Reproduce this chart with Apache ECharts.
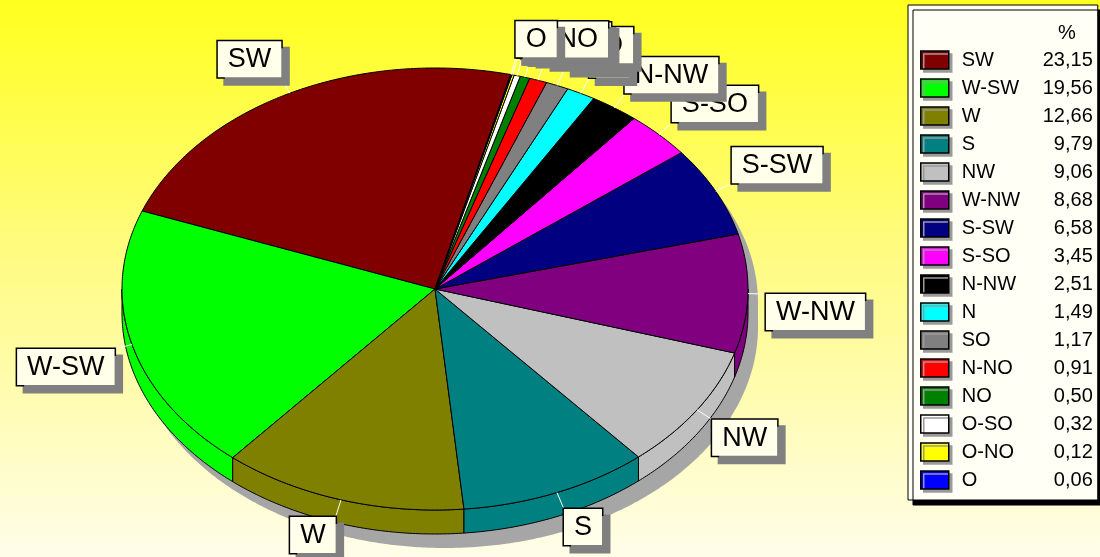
<!DOCTYPE html>
<html>
<head>
<meta charset="utf-8">
<script src="https://cdn.jsdelivr.net/npm/echarts@6/dist/echarts.min.js"></script>
<style>
html,body{margin:0;padding:0;}
#chart{width:1100px;height:557px;}
</style>
</head>
<body>
<div id="chart"></div>
<script>
// ---- data ----
const categories = ['SW','W-SW','W','S','NW','W-NW','S-SW','S-SO','N-NW','N','SO','N-NO','NO','O-SO','O-NO','O'];
const values = [23.15,19.56,12.66,9.79,9.06,8.68,6.58,3.45,2.51,1.49,1.17,0.91,0.50,0.32,0.12,0.06];
const colors = ['#800000','#00ff00','#808000','#008080','#c0c0c0','#800080','#000080','#ff00ff','#000000','#00ffff','#808080','#ff0000','#008000','#ffffff','#ffff00','#0000ff'];
const headerLabel = '%';

// ---- layout (styling) ----
const G = {cx:435, cy:289, rx:313, ry:221, depth:24, startAngle:76, leader:18, shX:10, shY:14};
const total = values.reduce((a,b)=>a+b,0);
const fmt = v => v.toFixed(2).replace('.', ',');

function pt(t, rxx, ryy, yoff){
  const r = t*Math.PI/180;
  return [G.cx + rxx*Math.cos(r), G.cy + (yoff||0) - ryy*Math.sin(r)];
}
function arc(s, e, rxx, ryy, yoff){
  const n = Math.max(2, Math.ceil(Math.abs(e-s)/0.5)+1);
  const out = [];
  for(let k=0;k<n;k++){ out.push(pt(s + (e-s)*k/(n-1), rxx, ryy, yoff)); }
  return out;
}
function sliceAngles(i){
  let before = 0;
  for(let k=0;k<i;k++) before += values[k];
  const s = G.startAngle + 360*before/total;
  const e = s + 360*values[i]/total;
  return [s,e];
}

function makeRender(i){
  return function(params, api){
    const [s,e] = sliceAngles(i);
    const children = [];
    // side band (visible front half: 180..360)
    const a = Math.max(s,180), b = Math.min(e,360);
    if (b > a){
      const top = arc(a,b,G.rx,G.ry,0);
      const bot = arc(b,a,G.rx,G.ry,G.depth);
      children.push({type:'polygon', z2:1, shape:{points: top.concat(bot)},
        style:{fill:colors[i], stroke:'#000', lineWidth:1}});
    }
    // top face
    const pts = [[G.cx,G.cy]].concat(arc(s,e,G.rx,G.ry,0));
    children.push({type:'polygon', z2:2, shape:{points:pts},
      style:{fill:colors[i], stroke:'#000', lineWidth:1}});
    // leader + label
    const m = (s+e)/2;
    const p0 = pt(m, G.rx, G.ry, 0);
    const p1 = pt(m, G.rx+G.leader, G.ry+G.leader, 0);
    children.push({type:'line', z2:3, shape:{x1:p0[0],y1:p0[1],x2:p1[0],y2:p1[1]},
      style:{stroke:'#ffffff', lineWidth:1}});
    children.push({type:'text', z2:20+i, x:p1[0], y:p1[1],
      style:{text:categories[i], fill:'#000', font:'27px "Liberation Sans", Arial, sans-serif',
        align: p1[0] >= G.cx ? 'left' : 'right',
        verticalAlign: p1[1] < G.cy ? 'bottom' : 'top',
        backgroundColor:'#ffffea', borderColor:'#000', borderWidth:1.5, padding:[5,10,4,10],
        shadowColor:'#808080', shadowOffsetX:7, shadowOffsetY:7, shadowBlur:0}});
    return {type:'group', children: children};
  };
}

const series = [{
  name:'shadow', type:'custom', coordinateSystem:'none', silent:true, z:1,
  data:[0],
  renderItem: function(){
    const up = arc(0,180,G.rx,G.ry,G.shY).map(p=>[p[0]+G.shX,p[1]]);
    const low = arc(180,360,G.rx,G.ry,G.depth+G.shY).map(p=>[p[0]+G.shX,p[1]]);
    return {type:'polygon', shape:{points: up.concat(low)}, style:{fill:'#a6a6a6'}};
  }
}];
categories.forEach((c,i)=>{
  series.push({name:c, type:'custom', coordinateSystem:'none', z:2,
    itemStyle:{color:colors[i]}, data:[values[i]], renderItem: makeRender(i)});
});

const chart = echarts.init(document.getElementById('chart'), null, {renderer:'canvas'});
chart.setOption({
  animation:false,
  backgroundColor:{type:'linear', x:0, y:0, x2:0, y2:1, colorStops:[
    {offset:0, color:'#ffff1e'}, {offset:0.45, color:'#fffb80'}, {offset:1, color:'#fffde8'}]},
  title:{text:headerLabel, left:1053, top:18, z:10,
    textStyle:{fontSize:20, fontWeight:'normal', color:'#000', fontFamily:'"Liberation Sans", Arial, sans-serif'}},
  legend:{
    data: categories, orient:'vertical', left:908, top:5, icon:'rect',
    itemWidth:28, itemHeight:18, itemGap:8, selectedMode:false,
    padding:[45,5,10,12], backgroundColor:'#fffff6', borderColor:'#000', borderWidth:1,
    shadowColor:'#000', shadowOffsetX:5, shadowOffsetY:5, shadowBlur:0,
    itemStyle:{borderColor:'#000', borderWidth:1.5, shadowColor:'#9a9a9a', shadowOffsetX:3, shadowOffsetY:3, shadowBlur:0},
    formatter: function(name){
      const idx = categories.indexOf(name);
      return '{s|}{n|' + name + '}{v|' + fmt(values[idx]) + '}';
    },
    textStyle:{color:'#000', fontSize:20, fontFamily:'"Liberation Sans", Arial, sans-serif',
      rich:{
        s:{width:8, lineHeight:18},
        n:{width:72, fontSize:20, lineHeight:18, fontFamily:'"Liberation Sans", Arial, sans-serif'},
        v:{width:59, align:'right', fontSize:20, lineHeight:18, fontFamily:'"Liberation Sans", Arial, sans-serif'}
      }}
  },
  series: series
});
</script>
</body>
</html>
